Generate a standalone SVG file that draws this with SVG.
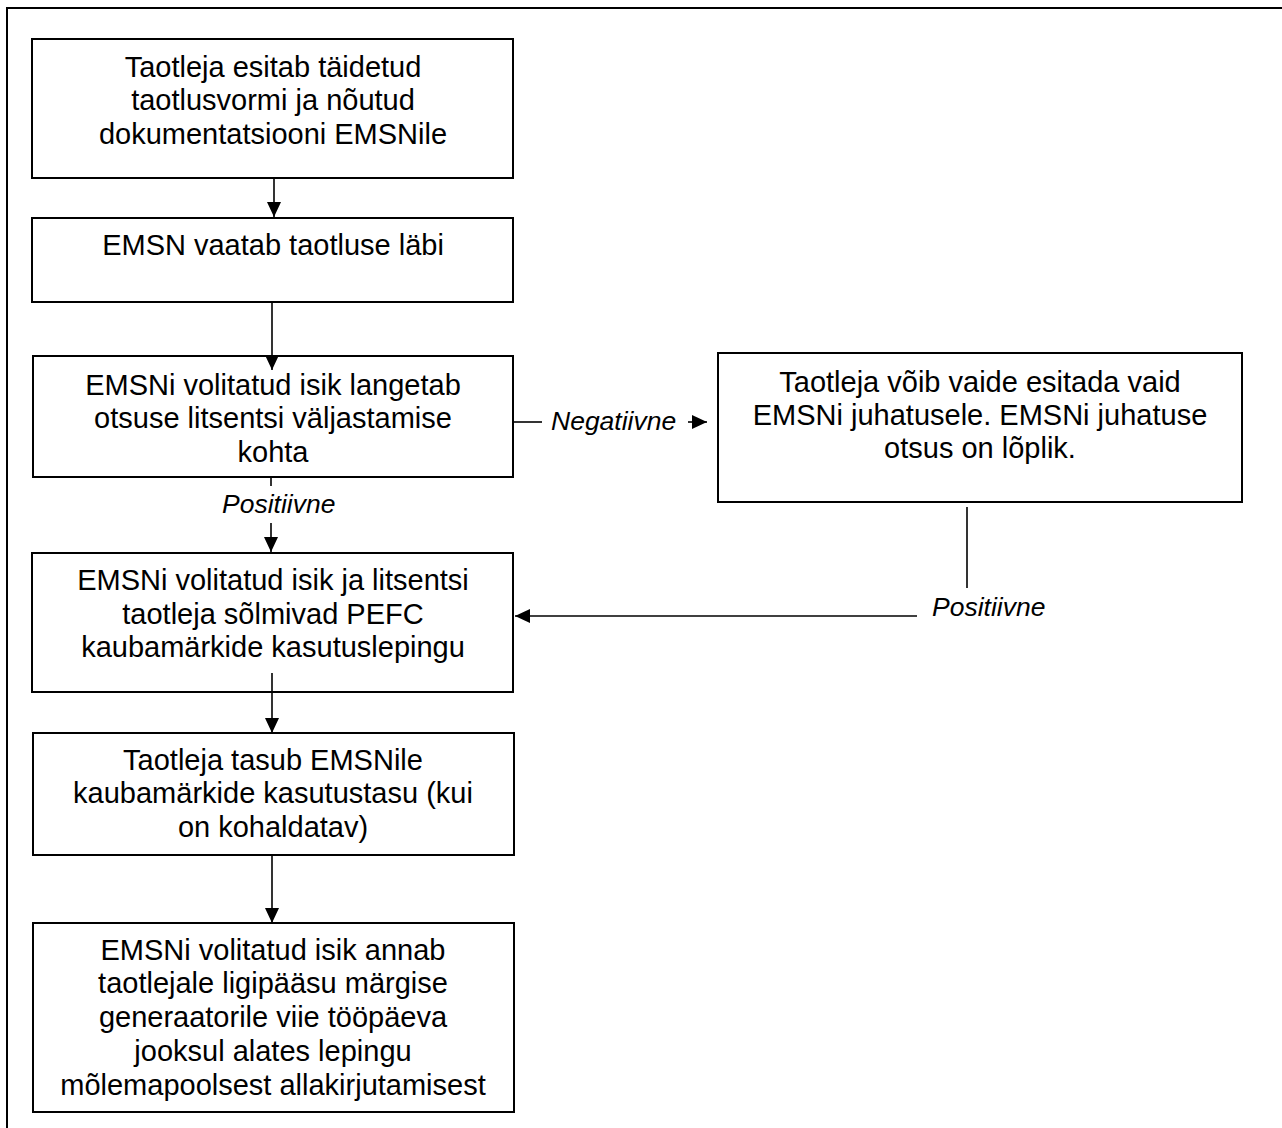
<svg xmlns="http://www.w3.org/2000/svg" width="1282" height="1128" viewBox="0 0 1282 1128">
<defs>
<style>
.box{fill:#fff;stroke:#000;stroke-width:2}
.t{font-family:"Liberation Sans",Arial,sans-serif;font-size:29px;fill:#000;text-anchor:middle}
.lbl{font-family:"Liberation Sans",Arial,sans-serif;font-size:26.5px;font-style:italic;fill:#000}
.ln{fill:none;stroke:#000;stroke-width:1.6}
</style>
<marker id="ah" viewBox="0 0 15 14" refX="15" refY="7" markerWidth="15" markerHeight="14" markerUnits="userSpaceOnUse" orient="auto">
<path d="M0,0 L15,7 L0,14 Z" fill="#000"/>
</marker>
</defs>
<rect width="1282" height="1128" fill="#fff"/>
<rect x="7" y="8" width="1300" height="1140" fill="none" stroke="#000" stroke-width="2"/>

<g id="n1">
<rect class="box" x="32" y="39" width="481" height="139"/>
<text class="t" x="273" y="77">Taotleja esitab täidetud</text>
<text class="t" x="273" y="110">taotlusvormi ja nõutud</text>
<text class="t" x="273" y="144">dokumentatsiooni EMSNile</text>
</g>
<g id="n2">
<rect class="box" x="32" y="218" width="481" height="84"/>
<text class="t" x="273" y="255">EMSN vaatab taotluse läbi</text>
</g>
<g id="n3">
<rect class="box" x="33" y="356" width="480" height="121"/>
<text class="t" x="273" y="395">EMSNi volitatud isik langetab</text>
<text class="t" x="273" y="428">otsuse litsentsi väljastamise</text>
<text class="t" x="273" y="462">kohta</text>
</g>
<g id="n4">
<rect class="box" x="718" y="353" width="524" height="149"/>
<text class="t" x="980" y="392">Taotleja võib vaide esitada vaid</text>
<text class="t" x="980" y="425">EMSNi juhatusele. EMSNi juhatuse</text>
<text class="t" x="980" y="458">otsus on lõplik.</text>
</g>
<g id="n5">
<rect class="box" x="32" y="553" width="481" height="139"/>
<text class="t" x="273" y="590">EMSNi volitatud isik ja litsentsi</text>
<text class="t" x="273" y="624">taotleja sõlmivad PEFC</text>
<text class="t" x="273" y="657">kaubamärkide kasutuslepingu</text>
</g>
<g id="n6">
<rect class="box" x="33" y="733" width="481" height="122"/>
<text class="t" x="273" y="770">Taotleja tasub EMSNile</text>
<text class="t" x="273" y="803">kaubamärkide kasutustasu (kui</text>
<text class="t" x="273" y="837">on kohaldatav)</text>
</g>
<g id="n7">
<rect class="box" x="33" y="923" width="481" height="189"/>
<text class="t" x="273" y="960">EMSNi volitatud isik annab</text>
<text class="t" x="273" y="993">taotlejale ligipääsu märgise</text>
<text class="t" x="273" y="1027">generaatorile viie tööpäeva</text>
<text class="t" x="273" y="1061">jooksul alates lepingu</text>
<text class="t" x="273" y="1095">mõlemapoolsest allakirjutamisest</text>
</g>

<g id="connectors">
<line class="ln" x1="274" y1="178" x2="274" y2="217" marker-end="url(#ah)"/>
<line class="ln" x1="272" y1="302" x2="272" y2="370" marker-end="url(#ah)"/>
<line class="ln" x1="271" y1="477" x2="271" y2="486"/>
<line class="ln" x1="271" y1="523" x2="271" y2="552" marker-end="url(#ah)"/>
<line class="ln" x1="513" y1="422" x2="542" y2="422"/>
<line class="ln" x1="688" y1="422" x2="707" y2="422" marker-end="url(#ah)"/>
<line class="ln" x1="967" y1="507" x2="967" y2="588"/>
<line class="ln" x1="917" y1="616" x2="515" y2="616" marker-end="url(#ah)"/>
<line class="ln" x1="272" y1="673" x2="272" y2="733" marker-end="url(#ah)"/>
<line class="ln" x1="272" y1="855" x2="272" y2="923" marker-end="url(#ah)"/>
<text class="lbl" x="551" y="430">Negatiivne</text>
<text class="lbl" x="222" y="513">Positiivne</text>
<text class="lbl" x="932" y="616">Positiivne</text>
</g>
</svg>
